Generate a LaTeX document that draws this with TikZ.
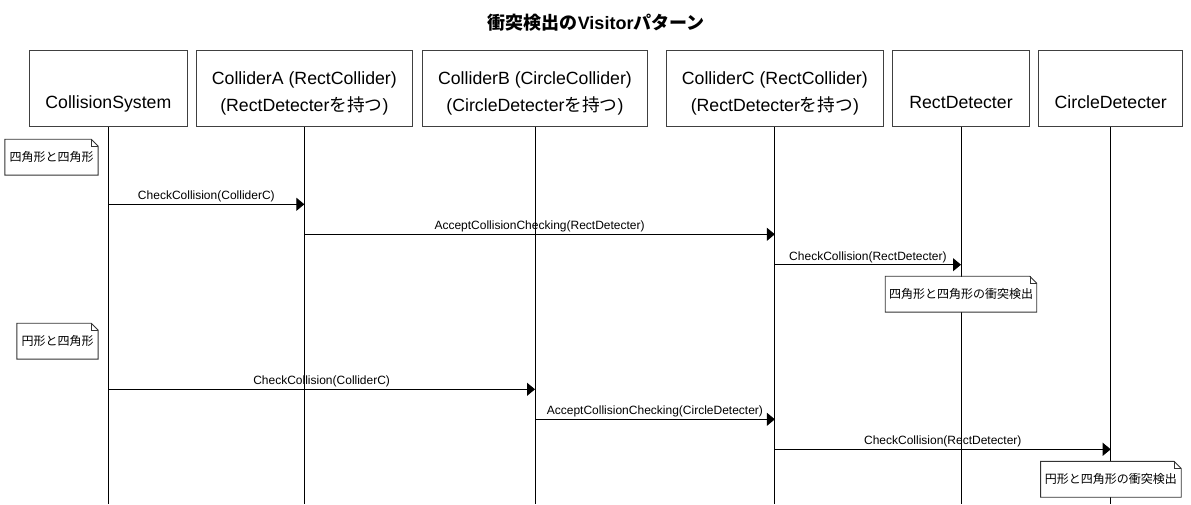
\documentclass[tikz,border=0pt]{standalone}
\usepackage{fontspec}
\setmainfont{Liberation Sans}
\newfontfamily\jp{Noto Sans CJK JP}
\usetikzlibrary{arrows.meta}

\tikzset{
  head/.style={draw=black!75, minimum height=76.7pt, inner sep=0pt},
  headtxt/.style={font=\fontsize{17.7}{27}\selectfont, align=center, anchor=base, inner sep=0pt},
  life/.style={black},
  msg/.style={black, -{Triangle[length=8pt,width=13pt]}},
  msgtxt/.style={font=\fontsize{12}{14}\selectfont, midway, above, inner sep=1.5pt},
  note/.style={fill=white, minimum height=35pt, inner sep=0pt, font=\fontsize{12}{14}\selectfont\jp},
  fold/.style={draw=black!80},
}

\begin{document}
\begin{tikzpicture}[x=1pt,y=-1pt,line width=0.9pt]
\fill[white] (0,0) rectangle (1191,504);
\useasboundingbox (0,0) rectangle (1191,504);

% title
\node[font=\fontsize{18}{20}\selectfont\bfseries] (ttl) at (596.2,22.3) {{\jp 衝突検出の}Visitor{\jp パターン}};

% heads
\node[head, minimum width=157.3pt] (sys)  at (108.35,88.35) {};
\node[head, minimum width=216.7pt] (colA) at (304.35,88.35) {};
\node[head, minimum width=224.6pt] (colB) at (535,88.35) {};
\node[head, minimum width=217.7pt] (colC) at (774.85,88.35) {};
\node[head, minimum width=136.6pt] (rdet) at (961,88.35) {};
\node[head, minimum width=144pt]   (cdet) at (1110.7,88.35) {};

\node[headtxt] (sysT)  at (108.35,108.3) {CollisionSystem};
\node[headtxt] (colAT) at (304.35,111.3) {ColliderA (RectCollider)\\(RectDetecter{\jp を持つ})};
\node[headtxt] (colBT) at (535,111.3) {ColliderB (CircleCollider)\\(CircleDetecter{\jp を持つ})};
\node[headtxt] (colCT) at (774.85,111.3) {ColliderC (RectCollider)\\(RectDetecter{\jp を持つ})};
\node[headtxt] (rdetT) at (961,108.3) {RectDetecter};
\node[headtxt] (cdetT) at (1110.7,108.3) {CircleDetecter};

% lifelines
\coordinate (bottom) at (0,504);
\foreach \h in {sys,colA,colB,colC,rdet,cdet}
  \draw[life] (\h.south) -- (\h.south |- bottom);

% message rows
\coordinate (r1) at (0,204.3);
\coordinate (r2) at (0,234.3);
\coordinate (r3) at (0,264.7);
\coordinate (r4) at (0,389.3);
\coordinate (r5) at (0,419.3);
\coordinate (r6) at (0,449.3);

% rect and rect
\node[note, minimum width=92.4pt] (n1) at (51.5,157.2) {四角形と四角形};
\draw[fold] (n1.south west) -- (n1.north west) -- ([xshift=-7pt]n1.north east) -- ([yshift=-7pt]n1.north east) -- (n1.south east) -- cycle;
\draw[fold,thin] ([xshift=-7pt]n1.north east) -- ([xshift=-7pt,yshift=-7pt]n1.north east) -- ([yshift=-7pt]n1.north east);

\draw[msg] (sys |- r1) -- (colA |- r1) node[msgtxt] {CheckCollision(ColliderC)};
\draw[msg] (colA |- r2) -- (colC |- r2) node[msgtxt] {AcceptCollisionChecking(RectDetecter)};
\draw[msg] (colC |- r3) -- (rdet |- r3) node[msgtxt] {CheckCollision(RectDetecter)};

\node[note, minimum width=150.6pt] (n3) at (961,294.2) {四角形と四角形の衝突検出};
\draw[fold] (n3.south west) -- (n3.north west) -- ([xshift=-7pt]n3.north east) -- ([yshift=-7pt]n3.north east) -- (n3.south east) -- cycle;
\draw[fold,thin] ([xshift=-7pt]n3.north east) -- ([xshift=-7pt,yshift=-7pt]n3.north east) -- ([yshift=-7pt]n3.north east);

% circle and rect
\node[note, minimum width=80.4pt] (n2) at (57.5,341.2) {円形と四角形};
\draw[fold] (n2.south west) -- (n2.north west) -- ([xshift=-7pt]n2.north east) -- ([yshift=-7pt]n2.north east) -- (n2.south east) -- cycle;
\draw[fold,thin] ([xshift=-7pt]n2.north east) -- ([xshift=-7pt,yshift=-7pt]n2.north east) -- ([yshift=-7pt]n2.north east);

\draw[msg] (sys |- r4) -- (colB |- r4) node[msgtxt] {CheckCollision(ColliderC)};
\draw[msg] (colB |- r5) -- (colC |- r5) node[msgtxt] {AcceptCollisionChecking(CircleDetecter)};
\draw[msg] (colC |- r6) -- (cdet |- r6) node[msgtxt] {CheckCollision(RectDetecter)};

\node[note, minimum width=139.7pt] (n4) at (1110.9,479.3) {円形と四角形の衝突検出};
\draw[fold] (n4.south west) -- (n4.north west) -- ([xshift=-7pt]n4.north east) -- ([yshift=-7pt]n4.north east) -- (n4.south east) -- cycle;
\draw[fold,thin] ([xshift=-7pt]n4.north east) -- ([xshift=-7pt,yshift=-7pt]n4.north east) -- ([yshift=-7pt]n4.north east);

\end{tikzpicture}
\end{document}
